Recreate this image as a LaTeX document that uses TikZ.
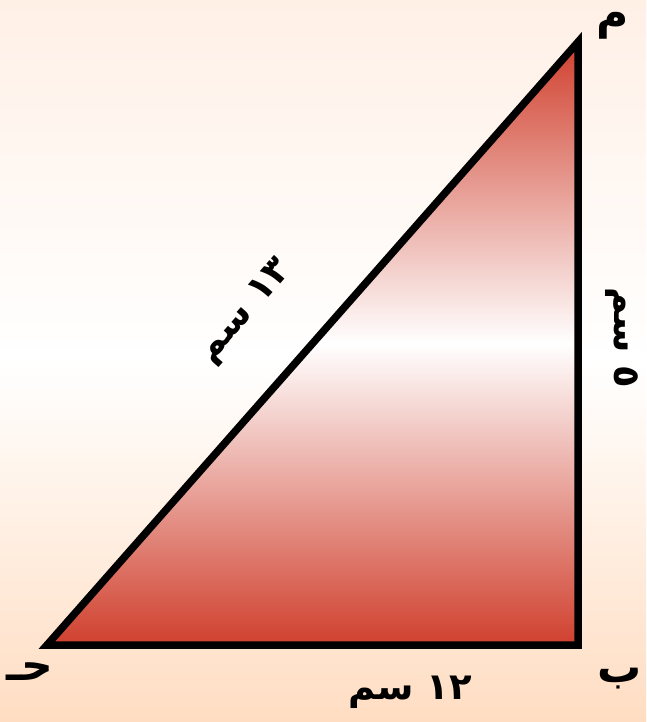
\documentclass[tikz,border=0pt]{standalone}
\usepackage{fontspec}
\usetikzlibrary{positioning}
\TeXXeTstate=1
\newfontfamily\arabicfont[Script=Arabic]{DejaVu Sans}
\definecolor{bgtop}{RGB}{255,240,230}
\definecolor{bgpeach}{RGB}{255,221,194}
\definecolor{tricolor}{RGB}{208,64,46}

\begin{document}
\begin{tikzpicture}[x=1pt,y=-1pt,
    lbl/.style={font=\arabicfont\bfseries\fontsize{37}{40}\selectfont, inner sep=0pt},
    vlbl/.style={font=\arabicfont\bfseries\fontsize{44}{48}\selectfont, inner sep=0pt,
        text height=22pt, text depth=14pt}]
    % Background
    \fill[top color=bgtop, bottom color=bgpeach, middle color=white] (0,0) rectangle (646,722);
    \useasboundingbox (0,0) rectangle (646,722);

    % Vertices
    \coordinate (A) at (578,42);
    \coordinate (B) at (578,645);
    \coordinate (C) at (47,645);

    % Triangle
    \draw[line width=7.5pt, top color=tricolor, bottom color=tricolor, middle color=white]
        (A) -- (B) -- (C) -- cycle;

    % Vertex names
    \node[vlbl] (nameA) at (613,25) {\beginR م\endR};
    \node[vlbl] (nameB) at (620,678) {\beginR ب\endR};
    \node[vlbl] (nameC) at (30,676) {\beginR حـ\endR};

    % Side lengths
    \node[lbl] (sideAC) at (246,312) [rotate=48.6] {\beginR ١٣ سم\endR};
    \node[lbl] (sideAB) at (622,338) [rotate=-90] {\beginR ٥ سم\endR};
    \node[lbl] (sideBC) at (410,692) {\beginR ١٢ سم\endR};
\end{tikzpicture}
\end{document}
